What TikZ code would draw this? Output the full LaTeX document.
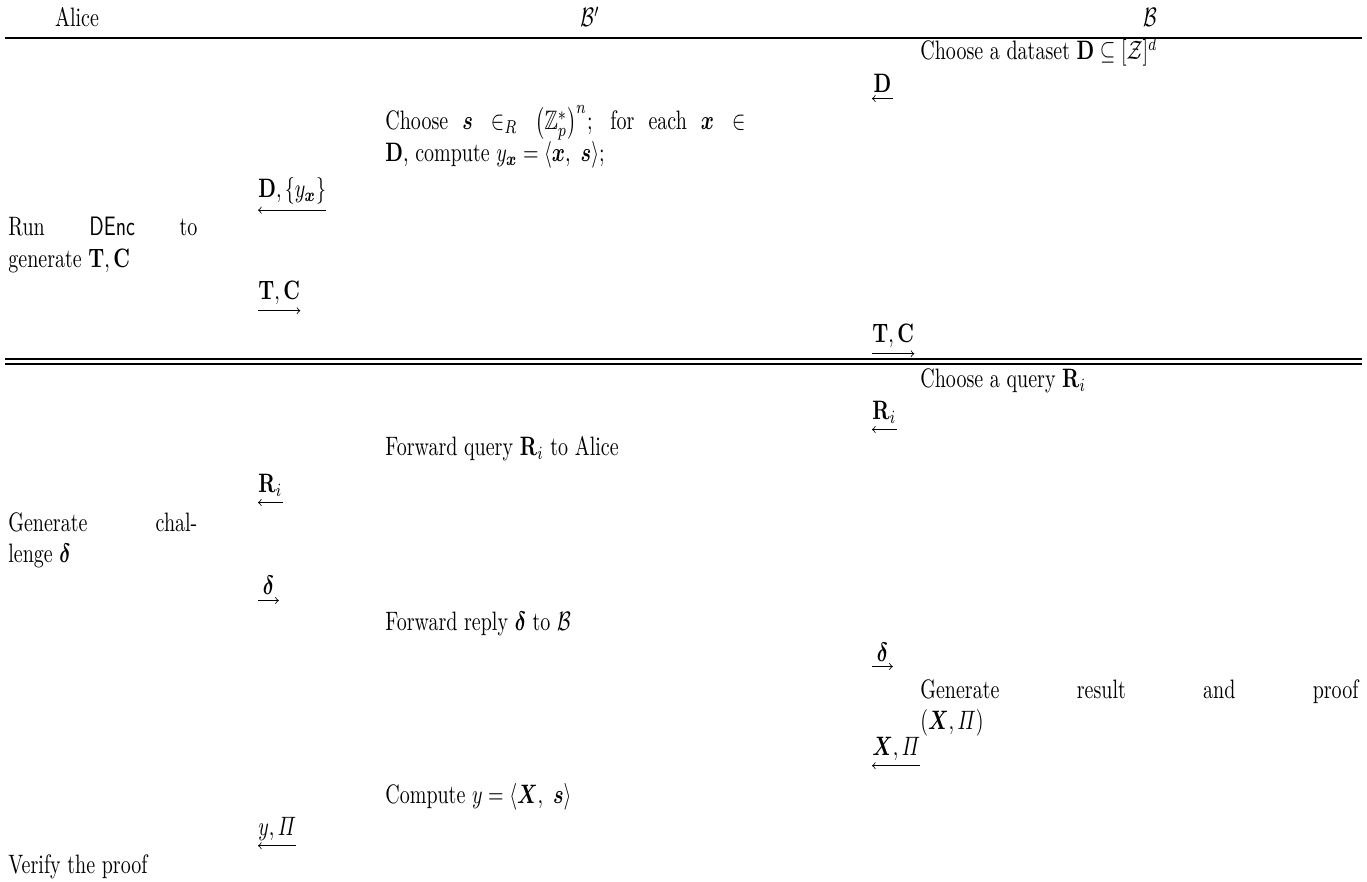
\documentclass[tikz,border=0pt]{standalone}
\usepackage{amsmath,amssymb}
\usepackage{tikz}
\tikzset{every picture/.append style={x=0.5pt,y=-0.5pt}}
\tikzset{
  hdr/.style={anchor=base,inner sep=0pt,yscale=1.333},
  act/.style={anchor=base west,inner sep=0pt,yscale=1.333,align=justify},
  msg/.style={anchor=base west,inner sep=0pt,yscale=1.333,minimum width=10pt},
  rule/.style={line width=0.7pt},
}

\begin{document}
\begin{tikzpicture}
    \useasboundingbox (0,0) rectangle (1367,882);
    \node[hdr] (hA) at (77,27) {Alice};
    \node[hdr] (hBp) at (590,27) {$\mathcal{B}'$};
    \node[hdr] (hB) at (1150,27) {$\mathcal{B}$};
    \draw[rule] (5,38) -- (1362,38);
    % setup
    \node[act,text width=219pt] (selD) at (920,60) {Choose a dataset $\mathbf{D}\subseteq[\mathcal{Z}]^d$};
    \node[msg] (mD) at (872,93) {$\mathbf{D}$};
    \node[act,text width=180pt] (selS) at (385,130) {Choose $\boldsymbol{s}\in_R\left(\mathbb{Z}_p^*\right)^n$; for each $\boldsymbol{x}\in$\linebreak $\mathbf{D}$, compute $y_{\boldsymbol{x}}=\langle\boldsymbol{x},\ \boldsymbol{s}\rangle$;};
    \node[msg] (mDy) at (258,198) {$\mathbf{D},\{y_{\boldsymbol{x}}\}$};
    \node[act,text width=94.5pt] (enc) at (8,236) {Run $\mathsf{DEnc}$ to\linebreak generate $\mathbf{T},\mathbf{C}$};
    \node[msg] (mTC1) at (258,300) {$\mathbf{T},\mathbf{C}$};
    \node[msg] (mTC2) at (872,343) {$\mathbf{T},\mathbf{C}$};
    \draw[rule] (5,359) -- (1362,359);
    \draw[rule] (5,364) -- (1362,364);
    % queries
    \node[act,text width=219pt] (qry) at (920,388) {Choose a query $\mathbf{R}_i$};
    \node[msg] (mR1) at (872,420) {$\mathbf{R}_i$};
    \node[act,text width=192.5pt] (fwdq) at (385,456) {Forward query $\mathbf{R}_i$ to Alice};
    \node[msg] (mR2) at (258,493) {$\mathbf{R}_i$};
    \node[act,text width=94.5pt] (chal) at (8,531) {Generate chal-\linebreak lenge $\boldsymbol{\delta}$};
    \node[msg] (mDel1) at (258,595) {$\boldsymbol{\delta}$};
    \node[act,text width=192.5pt] (fwdr) at (385,630) {Forward reply $\boldsymbol{\delta}$ to $\mathcal{B}$};
    \node[msg] (mDel2) at (872,661) {$\boldsymbol{\delta}$};
    \node[act,text width=219pt] (prf) at (920,698) {Generate result and proof\linebreak $(\boldsymbol{X},\varPi)$};
    \node[msg] (mXP) at (872,755) {$\boldsymbol{X},\varPi$};
    \node[act,text width=192.5pt] (cmp) at (385,803) {Compute $y=\langle\boldsymbol{X},\ \boldsymbol{s}\rangle$};
    \node[msg] (mYP) at (258,835) {$y,\varPi$};
    \node[act,text width=94.5pt] (vfy) at (8,873) {Verify the proof};
    % message arrows
    \foreach \m in {mD,mDy,mR1,mR2,mXP,mYP}
      \draw[<-] ([yshift=-2.5pt]\m.south west) -- ([yshift=-2.5pt]\m.south east);
    \foreach \m in {mTC1,mTC2,mDel1,mDel2}
      \draw[->] ([yshift=-2.5pt]\m.south west) -- ([yshift=-2.5pt]\m.south east);
\end{tikzpicture}
\end{document}
